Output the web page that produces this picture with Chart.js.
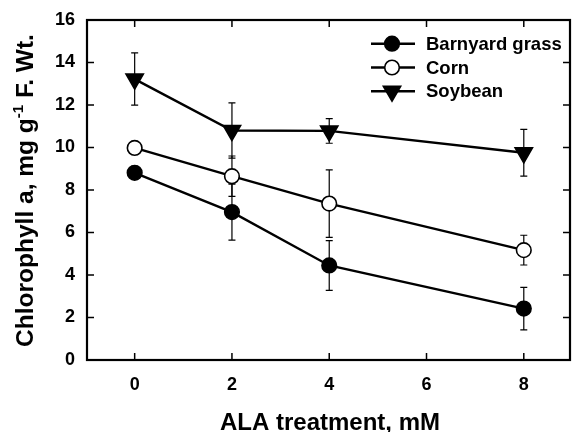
<!DOCTYPE html>
<html><head><meta charset="utf-8">
<script src="https://cdn.jsdelivr.net/npm/chart.js@4.4.0/dist/chart.umd.min.js"></script>
<style>html,body{margin:0;padding:0;background:#fff}</style>
</head><body>
<canvas id="c" width="572" height="432"></canvas>
<script>
const xValues = [0, 2, 4, 8];
const xTicks = [0, 2, 4, 6, 8];
const yTicks = [0, 2, 4, 6, 8, 10, 12, 14, 16];
const seriesNames = ['Barnyard grass', 'Corn', 'Soybean'];
const barnyard = [8.81, 6.96, 4.45, 2.42];
const barnyardErr = [0.3, 1.32, 1.17, 1.0];
const corn = [9.98, 8.65, 7.36, 5.17];
const cornErr = [0.3, 0.95, 1.59, 0.7];
const soybean = [13.22, 10.8, 10.78, 9.75];
const soybeanErr = [1.23, 1.3, 0.58, 1.1];
const xTitle = 'ALA treatment, mM';
const yTitleParts = ['Chlorophyll a, mg g', '-1', ' F. Wt.'];

const FONT = '"Liberation Sans", Arial, Helvetica, sans-serif';
const errs = [barnyardErr, cornErr, soybeanErr];

function pts(vals) { return xValues.map((x, i) => ({x: x, y: vals[i]})); }
function noPad(s) { s.paddingLeft = 0; s.paddingRight = 0; s.paddingTop = 0; s.paddingBottom = 0; }

const decor = {
  id: 'decor',
  beforeDatasetsDraw(chart) {
    const ctx = chart.ctx, a = chart.chartArea;
    const xs = chart.scales.x, ys = chart.scales.y;
    ctx.save();
    // error bars
    ctx.strokeStyle = '#000';
    ctx.lineWidth = 1.2;
    chart.data.datasets.forEach((ds, i) => {
      const e = errs[i];
      ds.data.forEach((p, j) => {
        const x = xs.getPixelForValue(p.x);
        const yh = ys.getPixelForValue(p.y + e[j]);
        const yl = ys.getPixelForValue(p.y - e[j]);
        ctx.beginPath();
        ctx.moveTo(x, yh); ctx.lineTo(x, yl);
        ctx.moveTo(x - 3.5, yh); ctx.lineTo(x + 3.5, yh);
        ctx.moveTo(x - 3.5, yl); ctx.lineTo(x + 3.5, yl);
        ctx.stroke();
      });
    });
    // frame
    ctx.lineWidth = 2.2;
    ctx.strokeRect(a.left, a.top, a.right - a.left, a.bottom - a.top);
    // inward ticks
    ctx.lineWidth = 1.5;
    ctx.beginPath();
    xTicks.forEach(v => {
      const x = xs.getPixelForValue(v);
      ctx.moveTo(x, a.bottom); ctx.lineTo(x, a.bottom - 7);
      ctx.moveTo(x, a.top); ctx.lineTo(x, a.top + 7);
    });
    yTicks.forEach(v => {
      const y = ys.getPixelForValue(v);
      ctx.moveTo(a.left, y); ctx.lineTo(a.left + 7, y);
      ctx.moveTo(a.right, y); ctx.lineTo(a.right - 7, y);
    });
    ctx.stroke();
    ctx.restore();
  },
  afterDraw(chart) {
    const ctx = chart.ctx;
    ctx.save();
    ctx.fillStyle = '#000';
    // x title
    ctx.font = 'bold 24px ' + FONT;
    ctx.textAlign = 'center';
    ctx.textBaseline = 'alphabetic';
    ctx.fillText(xTitle, 330, 430);
    // y title with superscript
    ctx.translate(33, 190.5);
    ctx.rotate(-Math.PI / 2);
    const big = 'bold 24.5px ' + FONT, small = 'bold 15px ' + FONT;
    ctx.font = big; const w1 = ctx.measureText(yTitleParts[0]).width;
    const w3 = ctx.measureText(yTitleParts[2]).width;
    ctx.font = small; const w2 = ctx.measureText(yTitleParts[1]).width;
    let x0 = -(w1 + w2 + w3) / 2;
    ctx.textAlign = 'left';
    ctx.font = big; ctx.fillText(yTitleParts[0], x0, 0);
    ctx.font = small; ctx.fillText(yTitleParts[1], x0 + w1, -10);
    ctx.font = big; ctx.fillText(yTitleParts[2], x0 + w1 + w2, 0);
    ctx.restore();
    // legend
    ctx.save();
    const rows = [43.7, 67.5, 91.2];
    chart.data.datasets.forEach((ds, i) => {
      const y = rows[i];
      ctx.strokeStyle = '#000';
      ctx.lineWidth = ds.borderWidth;
      ctx.beginPath(); ctx.moveTo(371, y); ctx.lineTo(415, y); ctx.stroke();
      ctx.fillStyle = ds.pointBackgroundColor;
      ctx.strokeStyle = '#000';
      ctx.lineWidth = ds.pointBorderWidth;
      Chart.helpers.drawPoint(ctx, {pointStyle: ds.pointStyle, radius: ds.pointRadius, rotation: ds.pointRotation || 0, borderWidth: ds.pointBorderWidth}, 392, y);
      ctx.fillStyle = '#000';
      ctx.font = 'bold 18.5px ' + FONT;
      ctx.textAlign = 'left';
      ctx.textBaseline = 'middle';
      ctx.fillText(ds.label, 426, y + 1);
    });
    ctx.restore();
  }
};

const common = {borderColor: '#000', borderWidth: 2.4, tension: 0, pointBorderColor: '#000', pointBorderWidth: 1.6, fill: false};

new Chart(document.getElementById('c'), {
  type: 'line',
  data: {
    datasets: [
      Object.assign({label: seriesNames[0], data: pts(barnyard), pointStyle: 'circle', pointRadius: 7.3, pointBackgroundColor: '#000'}, common),
      Object.assign({label: seriesNames[1], data: pts(corn), pointStyle: 'circle', pointRadius: 7.3, pointBackgroundColor: '#fff'}, common),
      Object.assign({label: seriesNames[2], data: pts(soybean), pointStyle: 'triangle', pointRotation: 180, pointRadius: 10, pointBackgroundColor: '#000'}, common)
    ]
  },
  options: {
    responsive: false,
    animation: false,
    devicePixelRatio: 1,
    layout: {autoPadding: false, padding: {top: 20, right: 2, left: 0, bottom: 0}},
    plugins: {legend: {display: false}, tooltip: {enabled: false}},
    scales: {
      x: {
        type: 'linear', position: 'bottom', min: -0.98, max: 8.95,
        afterBuildTicks(s) { s.ticks = xTicks.map(v => ({value: v})); },
        afterFit(s) { s.height = 72; noPad(s); },
        grid: {display: false, drawTicks: false}, border: {display: false},
        ticks: {color: '#000', font: {family: FONT, size: 18, weight: 'bold'}, padding: 14, maxRotation: 0}
      },
      y: {
        type: 'linear', position: 'left', min: 0, max: 16,
        afterBuildTicks(s) { s.ticks = yTicks.map(v => ({value: v})); },
        afterFit(s) { s.width = 87; noPad(s); },
        grid: {display: false, drawTicks: false}, border: {display: false},
        ticks: {color: '#000', font: {family: FONT, size: 18, weight: 'bold'}, padding: 12}
      }
    }
  },
  plugins: [decor]
});
</script>
</body></html>
